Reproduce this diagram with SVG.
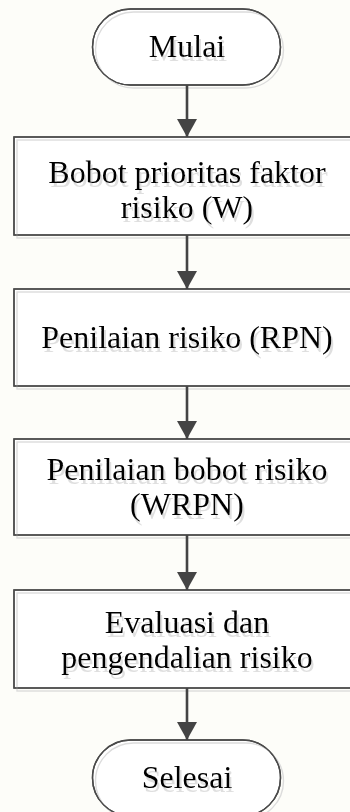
<svg xmlns="http://www.w3.org/2000/svg" width="350" height="812" viewBox="0 0 350 812">
  <style>
    .shape { fill: #ffffff; stroke: #4a4a4a; stroke-width: 1.4; }
    .shade { fill: none; stroke: #dcdcdc; stroke-width: 1.4; }
    .edge { fill: none; stroke: #4a4a4a; stroke-width: 1.4; }
    .label { font-family: "Liberation Serif", "Times New Roman", serif; font-size: 32px; fill: #000000; text-anchor: middle; filter: url(#soft); }
    .link { stroke: #444444; stroke-width: 2.6; fill: none; marker-end: url(#head); }
  </style>
  <defs>
    <marker id="head" markerUnits="userSpaceOnUse" markerWidth="20" markerHeight="20" refX="18" refY="10" orient="auto">
      <path d="M0,0 L18,10 L0,20 Z" fill="#444444"/>
    </marker>
    <!-- faint offset shadow under the labels -->
    <filter id="soft" x="-10%" y="-30%" width="120%" height="160%">
      <feDropShadow dx="2" dy="4" stdDeviation="0.7" flood-color="#b8b8b8" flood-opacity="0.45"/>
    </filter>
  </defs>

  <rect width="350" height="812" fill="#fdfdf9"/>

  <!-- start terminal -->
  <g id="mulai">
    <rect class="shape" x="92.5" y="9" width="188" height="76" rx="38" ry="38"/>
    <rect class="shade" x="95.5" y="12" width="188" height="76" rx="38" ry="38"/>
    <rect class="edge" x="92.5" y="9" width="188" height="76" rx="38" ry="38"/>
    <text class="label" x="187" y="57">Mulai</text>
  </g>

  <!-- process steps -->
  <g id="bobot-w">
    <rect class="shape" x="14" y="137" width="346" height="98"/>
    <rect class="shade" x="17" y="140" width="346" height="98"/>
    <rect class="edge" x="14" y="137" width="346" height="98"/>
    <text class="label" x="187" y="183">Bobot prioritas faktor</text>
    <text class="label" x="187" y="218">risiko (W)</text>
  </g>

  <g id="rpn">
    <rect class="shape" x="14" y="289" width="346" height="97"/>
    <rect class="shade" x="17" y="292" width="346" height="97"/>
    <rect class="edge" x="14" y="289" width="346" height="97"/>
    <text class="label" x="187" y="348">Penilaian risiko (RPN)</text>
  </g>

  <g id="wrpn">
    <rect class="shape" x="14" y="439" width="346" height="96"/>
    <rect class="shade" x="17" y="442" width="346" height="96"/>
    <rect class="edge" x="14" y="439" width="346" height="96"/>
    <text class="label" x="187" y="480">Penilaian bobot risiko</text>
    <text class="label" x="187" y="515">(WRPN)</text>
  </g>

  <g id="evaluasi">
    <rect class="shape" x="14" y="590" width="346" height="98"/>
    <rect class="shade" x="17" y="593" width="346" height="98"/>
    <rect class="edge" x="14" y="590" width="346" height="98"/>
    <text class="label" x="187" y="633">Evaluasi dan</text>
    <text class="label" x="187" y="668">pengendalian risiko</text>
  </g>

  <!-- end terminal -->
  <g id="selesai">
    <rect class="shape" x="92.5" y="740" width="188" height="76" rx="38" ry="38"/>
    <rect class="shade" x="95.5" y="743" width="188" height="76" rx="38" ry="38"/>
    <rect class="edge" x="92.5" y="740" width="188" height="76" rx="38" ry="38"/>
    <text class="label" x="187" y="788">Selesai</text>
  </g>

  <!-- connectors -->
  <g id="connectors">
    <line class="link" x1="187" y1="85" x2="187" y2="137"/>
    <line class="link" x1="187" y1="235" x2="187" y2="289"/>
    <line class="link" x1="187" y1="386" x2="187" y2="439"/>
    <line class="link" x1="187" y1="535" x2="187" y2="590"/>
    <line class="link" x1="187" y1="688" x2="187" y2="740"/>
  </g>
</svg>
